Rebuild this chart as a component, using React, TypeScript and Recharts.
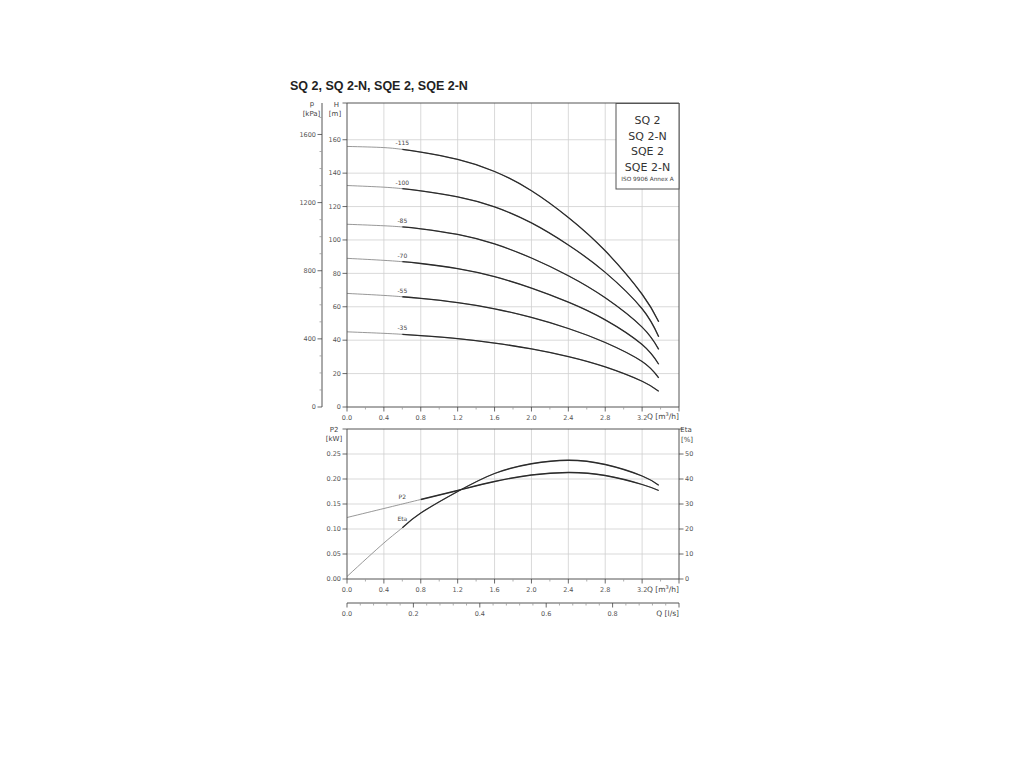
import React from "react";
import { LineChart, Line, XAxis, YAxis, ReferenceLine } from "recharts";

// flow points, m3/h
const Q = [0, 0.4, 0.6, 0.8, 1.2, 1.6, 2.0, 2.4, 2.8, 3.2, 3.38];

// head curves, m
const H_115 = [156, 155.3, 154.2, 152.6, 148.2, 141, 129.5, 113.5, 93.5, 67.5, 51];
const H_100 = [132.6, 131.6, 130.7, 129.4, 125.8, 119.8, 110.2, 97, 80.6, 58.8, 42];
const H_85 = [109.4, 108.5, 107.8, 106.7, 103.3, 97.6, 89.2, 78.6, 65.4, 47.8, 34.5];
const H_70 = [89, 87.8, 87, 85.9, 82.8, 78, 71.2, 62.8, 52.2, 37.4, 25.6];
const H_55 = [68, 66.8, 66, 65, 62.5, 58.8, 53.6, 47, 38.6, 27.2, 17.4];
const H_35 = [45, 44.1, 43.5, 42.7, 40.9, 38.3, 34.8, 30.2, 24, 15.4, 9.4];

// power (kW) and efficiency (%)
const P2 = [0.123, 0.141, 0.15, 0.159, 0.177, 0.195, 0.208, 0.213, 0.207, 0.189, 0.177];
const ETA = [1, 14.4, 20.5, 26.4, 35, 42.2, 46.1, 47.5, 45.8, 41.2, 37.5];

const CURVE_LABELS = ["-115", "-100", "-85", "-70", "-55", "-35"];
const LEGEND_LINES = ["SQ 2", "SQ 2-N", "SQE 2", "SQE 2-N"];

// ticks
const Q_MAJOR = [0, 0.4, 0.8, 1.2, 1.6, 2.0, 2.4, 2.8, 3.2, 3.6];
const Q_MINOR = [0.2, 0.6, 1.0, 1.4, 1.8, 2.2, 2.6, 3.0, 3.4];
const Q_GRID = [0.4, 0.8, 1.2, 1.6, 2.0, 2.4, 2.8, 3.2];
const LS_MAJOR = [0, 0.2, 0.4, 0.6, 0.8, 1.0];
const LS_MINOR = [0.04, 0.08, 0.12, 0.16, 0.24, 0.28, 0.32, 0.36, 0.44, 0.48, 0.52, 0.56, 0.64, 0.68, 0.72, 0.76, 0.84, 0.88, 0.92, 0.96];
const H_TICKS = [0, 20, 40, 60, 80, 100, 120, 140, 160, 182];
const H_GRID = [20, 40, 60, 80, 100, 120, 140, 160];
const KPA_MAJOR = [0, 400, 800, 1200, 1600];
const KPA_MINOR = [100, 200, 300, 500, 600, 700, 900, 1000, 1100, 1300, 1400, 1500, 1700];
const P2_TICKS = [0, 0.05, 0.1, 0.15, 0.2, 0.25, 0.3];
const P2_GRID = [0.05, 0.1, 0.15, 0.2, 0.25];
const ETA_TICKS = [0, 10, 20, 30, 40, 50, 60];

const H_MAX = 182;
const KPA_MAX = H_MAX * 9.80665;
const Q_MAX = 3.6;

const FONT = "'DejaVu Sans', sans-serif";
const GRID = "#cfcfcf";
const BORDER = "#555";
const LIGHT = "#8c8c8c";
const DARK = "#2b2b2b";

const KEYS = ["h115", "h100", "h85", "h70", "h55", "h35"];
const HEADS = [H_115, H_100, H_85, H_70, H_55, H_35];

const topData = Q.map((q, i) => {
  const row: any = { q };
  KEYS.forEach((k, j) => {
    row[k] = HEADS[j][i];
    row[k + "d"] = i >= 2 ? HEADS[j][i] : null;
  });
  return row;
});

// same flows in l/s for the second axis
const bottomData = Q.map((q, i) => ({
  q,
  ls: q / 3.6,
  p2: P2[i],
  p2d: i >= 3 ? P2[i] : null,
  eta: ETA[i],
  etad: i >= 2 ? ETA[i] : null,
}));

const near = (list: number[], v: number) =>
  list.some((m) => Math.abs(m - v) < 1e-6);

const makeTick =
  (side: "left" | "right" | "bottom", major: number[], fmt: (v: number) => string, skip: number[] = []) =>
  (props: any) => {
    const { x, y, payload } = props;
    const v = Number(payload.value);
    const isMajor = near(major, v);
    const len = isMajor ? 4.5 : 2.5;
    const stroke = isMajor ? "#444" : "#999";
    const label = isMajor && !near(skip, v) ? fmt(v) : "";
    const txt = { fontSize: 6.5, fill: "#555", fontFamily: FONT };
    if (side === "left") {
      return (
        <g>
          <line x1={x - len} x2={x} y1={y} y2={y} stroke={stroke} strokeWidth={0.8} />
          {label && (
            <text x={x - 6} y={y + 2.3} textAnchor="end" {...txt}>
              {label}
            </text>
          )}
        </g>
      );
    }
    if (side === "right") {
      return (
        <g>
          <line x1={x} x2={x + len} y1={y} y2={y} stroke={stroke} strokeWidth={0.8} />
          {label && (
            <text x={x + 6} y={y + 2.3} textAnchor="start" {...txt}>
              {label}
            </text>
          )}
        </g>
      );
    }
    return (
      <g>
        <line x1={x} x2={x} y1={y} y2={y + len} stroke={stroke} strokeWidth={0.8} />
        {label && (
          <text x={x} y={y + 12.5} textAnchor="middle" {...txt}>
            {label}
          </text>
        )}
      </g>
    );
  };

const labelDot = (text: string, at: number, dx: number, dy: number) => (p: any) => {
  if (p.index !== at) return <g key={"d" + p.index} />;
  return (
    <text
      key={"d" + p.index}
      x={p.cx + dx}
      y={p.cy + dy}
      textAnchor="middle"
      fontSize={6}
      fill="#444"
      fontFamily={FONT}
    >
      {text}
    </text>
  );
};

const fmt1 = (v: number) => v.toFixed(1);
const fmt2 = (v: number) => v.toFixed(2);
const fmt0 = (v: number) => String(Math.round(v));

const TopChart = () => (
  <LineChart
    width={420}
    height={332}
    data={topData}
    margin={{ top: 8, right: 21, bottom: 0, left: 0 }}
  >
    <XAxis
      xAxisId="q"
      type="number"
      dataKey="q"
      domain={[0, Q_MAX]}
      ticks={[...Q_MAJOR, ...Q_MINOR].sort((a, b) => a - b)}
      interval={0}
      tickSize={0}
      tickMargin={0}
      tickLine={false}
      axisLine={{ stroke: BORDER }}
      height={20}
      tick={makeTick("bottom", Q_MAJOR, fmt1, [3.6])}
    />
    <YAxis
      yAxisId="h"
      type="number"
      domain={[0, H_MAX]}
      ticks={H_TICKS}
      interval={0}
      width={25}
      tickSize={0}
      tickMargin={0}
      tickLine={false}
      axisLine={{ stroke: BORDER }}
      tick={makeTick("left", H_TICKS, fmt0, [182])}
    />
    <YAxis
      yAxisId="kpa"
      type="number"
      domain={[0, KPA_MAX]}
      allowDataOverflow
      ticks={[...KPA_MAJOR, ...KPA_MINOR].sort((a, b) => a - b)}
      interval={0}
      width={42}
      tickSize={0}
      tickMargin={0}
      tickLine={false}
      axisLine={{ stroke: BORDER }}
      tick={makeTick("left", KPA_MAJOR, fmt0)}
    />
    {Q_GRID.map((v) => (
      <ReferenceLine key={"vx" + v} xAxisId="q" yAxisId="h" x={v} stroke={GRID} strokeWidth={0.8} />
    ))}
    {H_GRID.map((v) => (
      <ReferenceLine key={"hy" + v} xAxisId="q" yAxisId="h" y={v} stroke={GRID} strokeWidth={0.8} />
    ))}
    <ReferenceLine xAxisId="q" yAxisId="h" x={Q_MAX} stroke={BORDER} strokeWidth={1} />
    <ReferenceLine xAxisId="q" yAxisId="h" y={H_MAX} stroke={BORDER} strokeWidth={1} />
    {KEYS.map((k, j) => (
      <Line
        key={k}
        xAxisId="q"
        yAxisId="h"
        type="natural"
        dataKey={k}
        stroke={LIGHT}
        strokeWidth={0.9}
        dot={labelDot(CURVE_LABELS[j], 2, 0, -4)}
        activeDot={false}
        isAnimationActive={false}
      />
    ))}
    {KEYS.map((k) => (
      <Line
        key={k + "d"}
        xAxisId="q"
        yAxisId="h"
        type="natural"
        dataKey={k + "d"}
        stroke={DARK}
        strokeWidth={1.3}
        dot={false}
        activeDot={false}
        isAnimationActive={false}
      />
    ))}
  </LineChart>
);

const BottomChart = () => (
  <LineChart
    width={440}
    height={205}
    data={bottomData}
    margin={{ top: 9, right: 11, bottom: 0, left: 0 }}
  >
    <XAxis
      xAxisId="q"
      type="number"
      dataKey="q"
      domain={[0, Q_MAX]}
      ticks={[...Q_MAJOR, ...Q_MINOR].sort((a, b) => a - b)}
      interval={0}
      tickSize={0}
      tickMargin={0}
      tickLine={false}
      axisLine={{ stroke: BORDER }}
      height={24}
      tick={makeTick("bottom", Q_MAJOR, fmt1, [3.6])}
    />
    <XAxis
      xAxisId="s"
      type="number"
      dataKey="ls"
      domain={[0, 1]}
      allowDataOverflow
      ticks={[...LS_MAJOR, ...LS_MINOR].sort((a, b) => a - b)}
      interval={0}
      tickSize={0}
      tickMargin={0}
      tickLine={false}
      axisLine={{ stroke: BORDER }}
      height={22}
      tick={makeTick("bottom", LS_MAJOR, fmt1, [1.0])}
    />
    <YAxis
      yAxisId="p2"
      type="number"
      domain={[0, 0.3]}
      ticks={P2_TICKS}
      interval={0}
      width={67}
      tickSize={0}
      tickMargin={0}
      tickLine={false}
      axisLine={{ stroke: BORDER }}
      tick={makeTick("left", P2_TICKS, fmt2, [0.3])}
    />
    <YAxis
      yAxisId="eta"
      orientation="right"
      type="number"
      domain={[0, 60]}
      ticks={ETA_TICKS}
      interval={0}
      width={30}
      tickSize={0}
      tickMargin={0}
      tickLine={false}
      axisLine={{ stroke: BORDER }}
      tick={makeTick("right", ETA_TICKS, fmt0, [60])}
    />
    {Q_GRID.map((v) => (
      <ReferenceLine key={"bx" + v} xAxisId="q" yAxisId="p2" x={v} stroke={GRID} strokeWidth={0.8} />
    ))}
    {P2_GRID.map((v) => (
      <ReferenceLine key={"by" + v} xAxisId="q" yAxisId="p2" y={v} stroke={GRID} strokeWidth={0.8} />
    ))}
    <ReferenceLine xAxisId="q" yAxisId="p2" y={0.3} stroke={BORDER} strokeWidth={1} />
    <Line
      xAxisId="q"
      yAxisId="p2"
      type="natural"
      dataKey="p2"
      stroke={LIGHT}
      strokeWidth={0.9}
      dot={labelDot("P2", 2, 0, -5)}
      activeDot={false}
      isAnimationActive={false}
    />
    <Line
      xAxisId="q"
      yAxisId="eta"
      type="natural"
      dataKey="eta"
      stroke={LIGHT}
      strokeWidth={0.9}
      dot={labelDot("Eta", 2, 0, -7)}
      activeDot={false}
      isAnimationActive={false}
    />
    <Line
      xAxisId="q"
      yAxisId="p2"
      type="natural"
      dataKey="p2d"
      stroke={DARK}
      strokeWidth={1.3}
      dot={false}
      activeDot={false}
      isAnimationActive={false}
    />
    <Line
      xAxisId="q"
      yAxisId="eta"
      type="natural"
      dataKey="etad"
      stroke={DARK}
      strokeWidth={1.3}
      dot={false}
      activeDot={false}
      isAnimationActive={false}
    />
  </LineChart>
);

const small = { fontFamily: FONT, fontSize: 7, fill: "#444" };

export default function App() {
  return (
    <div style={{ position: "absolute", left: 0, top: 0, width: 1024, height: 768, background: "#fff" }}>
      <div style={{ position: "absolute", left: 280, top: 95 }}>
        <TopChart />
      </div>
      <div style={{ position: "absolute", left: 280, top: 420 }}>
        <BottomChart />
      </div>
      <svg
        width={1024}
        height={768}
        style={{ position: "absolute", left: 0, top: 0, pointerEvents: "none" }}
      >
        <text
          x={290}
          y={90}
          fontFamily="'Liberation Sans', Arial, sans-serif"
          fontWeight="bold"
          fontSize={12.5}
          fill="#222"
        >
          SQ 2, SQ 2-N, SQE 2, SQE 2-N
        </text>

        <text x={312} y={106} textAnchor="middle" {...small}>p</text>
        <text x={311.5} y={116} textAnchor="middle" {...small}>[kPa]</text>
        <text x={336.5} y={106.5} textAnchor="middle" {...small}>H</text>
        <text x={335} y={116} textAnchor="middle" {...small}>[m]</text>

        <text x={647} y={419} textAnchor="start" {...small} fontSize={7.5}>
          Q [m<tspan dy={-3} fontSize={5}>3</tspan><tspan dy={3}>/h]</tspan>
        </text>

        <text x={334} y={431.5} textAnchor="middle" {...small}>P2</text>
        <text x={334} y={441} textAnchor="middle" {...small}>[kW]</text>
        <text x={686} y={431.5} textAnchor="middle" {...small}>Eta</text>
        <text x={687} y={441.5} textAnchor="middle" {...small}>[%]</text>

        <text x={647} y={592} textAnchor="start" {...small} fontSize={7.5}>
          Q [m<tspan dy={-3} fontSize={5}>3</tspan><tspan dy={3}>/h]</tspan>
        </text>
        <text x={679} y={615.5} textAnchor="end" {...small} fontSize={7.5}>
          Q [l/s]
        </text>

        <rect x={616} y={103.5} width={63} height={85.5} fill="#fff" stroke={BORDER} strokeWidth={1} />
        {LEGEND_LINES.map((t, i) => (
          <text
            key={t}
            x={647.5}
            y={124 + i * 15.6}
            textAnchor="middle"
            fontFamily={FONT}
            fontSize={11}
            fill="#333"
          >
            {t}
          </text>
        ))}
        <text x={647.5} y={181} textAnchor="middle" fontFamily={FONT} fontSize={5.8} fill="#444">
          ISO 9906 Annex A
        </text>
      </svg>
    </div>
  );
}
